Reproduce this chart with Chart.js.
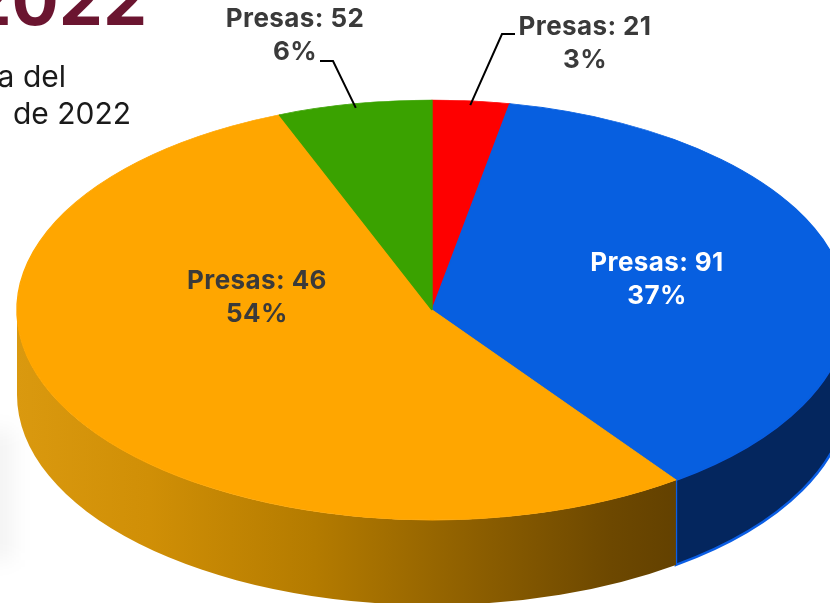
<!DOCTYPE html>
<html>
<head>
<meta charset="utf-8">
<script src="https://cdn.jsdelivr.net/npm/chart.js@4/dist/chart.umd.min.js"></script>
<style>
  html, body { margin: 0; padding: 0; background: #ffffff; }
  #wrap { position: relative; width: 830px; height: 603px; overflow: hidden; }
  canvas { display: block; }
</style>
</head>
<body>
<div id="wrap"><canvas id="c" width="830" height="603"></canvas></div>
<script>
// Reservoir counts and their share of the total (slices are sized by share)
const categories = ['Presas', 'Presas', 'Presas', 'Presas'];
const presas = [21, 91, 46, 52];
const percentages = [3, 37, 54, 6];

// Slice colours: top face and side wall
const topColors = ['#fe0000', '#075fe0', '#ffa600', '#3aa200'];
const sideColors = ['#a00000', '#04265e', null, '#246600'];

// Geometry of the tilted pie on the page
const CX = 432, CY = 310, RX = 415, RY = 210, DEPTH = 85;

// Label placement: [centre x, first baseline], text colour
const labelPlacement = [
  { x: 585, y: 35, color: '#3a3a3a', leader: [[515, 34], [502, 34]] },
  { x: 657, y: 271, color: '#ffffff' },
  { x: 257, y: 289, color: '#3a3a3a' },
  { x: 295, y: 27, color: '#3a3a3a', leader: [[320, 61], [333, 61]] }
];
const LINE_GAP = 33;
const LABEL_FONT = '700 26px Inter, "DejaVu Sans", sans-serif';

function orangeWallGradient(ctx) {
  const g = ctx.createLinearGradient(CX - RX, 0, CX + RX * Math.cos(0.94), 0);
  g.addColorStop(0.0, '#da990f');
  g.addColorStop(0.2, '#d08f06');
  g.addColorStop(0.45, '#b47b00');
  g.addColorStop(0.7, '#8c5e00');
  g.addColorStop(0.9, '#6d4800');
  g.addColorStop(1.0, '#634100');
  return g;
}

const pie3d = {
  id: 'pie3d',
  beforeDraw(chart) {
    const ctx = chart.ctx;
    ctx.save();
    // soft shading on the left margin
    ctx.filter = 'blur(10px)';
    ctx.fillStyle = 'rgba(0,0,0,0.045)';
    ctx.fillRect(-20, 430, 34, 130);
    ctx.filter = 'none';
    // heading text behind the chart
    ctx.textAlign = 'right';
    ctx.textBaseline = 'alphabetic';
    ctx.fillStyle = '#6b1530';
    ctx.font = '700 70px Inter, "DejaVu Sans", sans-serif';
    ctx.fillText('2022', 147, 25);
    ctx.fillStyle = '#1a1a1a';
    ctx.font = '400 30px Inter, "DejaVu Sans", sans-serif';
    ctx.fillText('a del', 66, 87);
    ctx.fillText('de 2022', 131, 124);
    ctx.restore();
  },
  beforeDatasetsDraw(chart) {
    const ctx = chart.ctx;
    const arcs = chart.getDatasetMeta(0).data;
    // side walls for the front half (angles 0..PI)
    arcs.forEach((arc, i) => {
      const a1 = Math.max(arc.startAngle, 0);
      const a2 = Math.min(arc.endAngle, Math.PI);
      if (a2 <= a1) return;
      ctx.save();
      ctx.beginPath();
      ctx.ellipse(CX, CY, RX, RY, 0, a1, a2, false);
      ctx.lineTo(CX + RX * Math.cos(a2), CY + DEPTH + RY * Math.sin(a2));
      ctx.ellipse(CX, CY + DEPTH, RX, RY, 0, a2, a1, true);
      ctx.closePath();
      ctx.fillStyle = sideColors[i] || orangeWallGradient(ctx);
      ctx.fill();
      if (i === 1) {
        ctx.strokeStyle = '#0b5ee4';
        ctx.lineWidth = 2.5;
        ctx.stroke();
      }
      ctx.restore();
    });
    // squash the library's circular pie into the tilted ellipse
    const a = arcs[0];
    ctx.save();
    ctx.translate(CX, CY);
    ctx.scale(RX / a.outerRadius, RY / a.outerRadius);
    ctx.translate(-a.x, -a.y);
  },
  afterDatasetsDraw(chart) {
    const ctx = chart.ctx;
    ctx.restore();
    const arcs = chart.getDatasetMeta(0).data;
    arcs.forEach((arc, i) => {
      const p = labelPlacement[i];
      if (p.leader) {
        const mid = (arc.startAngle + arc.endAngle) / 2;
        const ex = CX + RX * 0.98 * Math.cos(mid);
        const ey = CY + RY * 0.98 * Math.sin(mid);
        ctx.save();
        ctx.strokeStyle = '#000000';
        ctx.lineWidth = 2;
        ctx.beginPath();
        ctx.moveTo(p.leader[0][0], p.leader[0][1]);
        ctx.lineTo(p.leader[1][0], p.leader[1][1]);
        ctx.lineTo(ex, ey);
        ctx.stroke();
        ctx.restore();
      }
      ctx.save();
      ctx.font = LABEL_FONT;
      if ('letterSpacing' in ctx) ctx.letterSpacing = '0.4px';
      ctx.fillStyle = p.color;
      ctx.textAlign = 'center';
      ctx.textBaseline = 'alphabetic';
      ctx.fillText(categories[i] + ': ' + presas[i], p.x, p.y);
      ctx.fillText(percentages[i] + '%', p.x, p.y + LINE_GAP);
      ctx.restore();
    });
  }
};

new Chart(document.getElementById('c'), {
  type: 'pie',
  data: {
    labels: categories.map((c, i) => c + ': ' + presas[i]),
    datasets: [{
      data: percentages,
      backgroundColor: topColors,
      borderColor: topColors,
      borderWidth: 1,
      clip: false
    }]
  },
  options: {
    responsive: false,
    animation: false,
    events: [],
    layout: { padding: { left: 34, right: 0, top: 17, bottom: 0 } },
    plugins: { legend: { display: false }, tooltip: { enabled: false } }
  },
  plugins: [pie3d]
});
</script>
</body>
</html>
